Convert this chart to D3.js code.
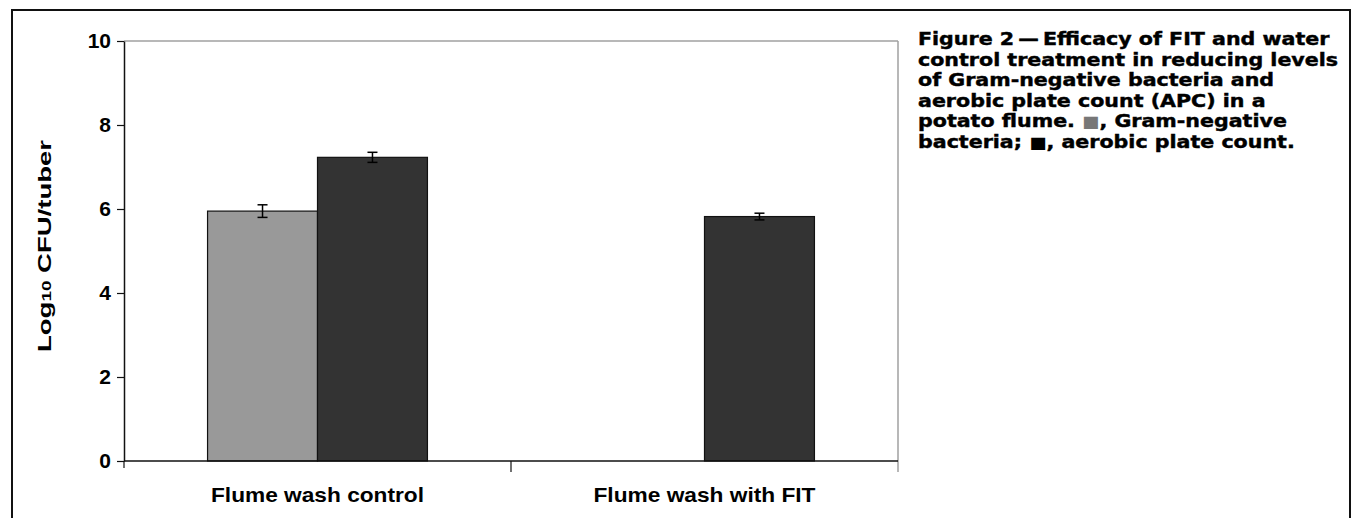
<!DOCTYPE html>
<html>
<head>
<meta charset="utf-8">
<script src="https://cdn.jsdelivr.net/npm/d3@7"></script>
<style>
  body { margin: 0; background: #fff; }
  svg { display: block; }
</style>
</head>
<body>
<div id="chart-area"></div>
<script>
// chart data
const categories = ["Flume wash control", "Flume wash with FIT"];
const seriesNames = ["Gram-negative bacteria", "Aerobic plate count"];
const gramNegative = [5.95, 0];
const gramNegativeErr = [0.15, 0];
const aerobicCount = [7.23, 5.82];
const aerobicErr = [0.12, 0.08];
const yTicks = [0, 2, 4, 6, 8, 10];
const seriesColors = ["#999999", "#333333"];
const captionLines = [
  "Figure 2\u2009\u2014\u2009Efficacy of FIT and water",
  "control treatment in reducing levels",
  "of Gram-negative bacteria and",
  "aerobic plate count (APC) in a",
  "potato flume. [0], Gram-negative",
  "bacteria; [1], aerobic plate count."
];

const W = 1354, H = 518;
let margin = {left: 124, top: 41, right: 456, bottom: 57};
let width = W - margin.left - margin.right,
    height = H - margin.top - margin.bottom;

let svg = d3.select("#chart-area")
  .append("svg")
  .attr("width", W)
  .attr("height", H);

// outer frame (no bottom edge, it runs off the page)
svg.append("path")
  .attr("d", "M12," + (H + 5) + "V10H1350V" + (H + 5))
  .attr("fill", "none")
  .attr("stroke", "#111")
  .attr("stroke-width", 2);

let g = svg.append("g")
  .attr("transform", "translate(" + margin.left + "," + margin.top + ")");

// scales
let x = d3.scaleBand()
  .domain(categories)
  .range([0, width])
  .padding(0);

let xSub = d3.scaleBand()
  .domain(seriesNames)
  .range([0, x.bandwidth()])
  .paddingInner(0)
  .paddingOuter(0.76);

let y = d3.scaleLinear()
  .domain([0, 10])
  .range([height, 0]);

// plot frame (top and right, grey)
g.append("line")
  .attr("x1", 0).attr("x2", width)
  .attr("y1", y(10)).attr("y2", y(10))
  .attr("stroke", "#a0a0a0").attr("stroke-width", 1.5);
g.append("line")
  .attr("x1", width).attr("x2", width)
  .attr("y1", y(10)).attr("y2", height + 11)
  .attr("stroke", "#a0a0a0").attr("stroke-width", 1.5);

// bars
let rows = categories.map(function(c, i) {
  return [
    {cat: c, s: seriesNames[0], v: gramNegative[i], e: gramNegativeErr[i], col: seriesColors[0]},
    {cat: c, s: seriesNames[1], v: aerobicCount[i], e: aerobicErr[i], col: seriesColors[1]}
  ];
}).flat();

g.selectAll("rect.bar")
  .data(rows.filter(function(d) { return d.v > 0; }))
  .enter()
  .append("rect")
  .attr("class", "bar")
  .attr("x", function(d) { return x(d.cat) + xSub(d.s); })
  .attr("y", function(d) { return y(d.v); })
  .attr("width", xSub.bandwidth())
  .attr("height", function(d) { return height - y(d.v); })
  .attr("fill", function(d) { return d.col; })
  .attr("stroke", "#111")
  .attr("stroke-width", 1.2);

// error bars
let eb = g.selectAll("g.err")
  .data(rows.filter(function(d) { return d.v > 0; }))
  .enter()
  .append("g")
  .attr("class", "err")
  .attr("stroke", "#000")
  .attr("stroke-width", 1.5);
let cx = function(d) { return x(d.cat) + xSub(d.s) + xSub.bandwidth() / 2; };
eb.append("line")
  .attr("x1", cx).attr("x2", cx)
  .attr("y1", function(d) { return y(d.v + d.e); })
  .attr("y2", function(d) { return y(d.v - d.e); });
eb.append("line")
  .attr("x1", function(d) { return cx(d) - 5; }).attr("x2", function(d) { return cx(d) + 5; })
  .attr("y1", function(d) { return y(d.v + d.e); })
  .attr("y2", function(d) { return y(d.v + d.e); });
eb.append("line")
  .attr("x1", function(d) { return cx(d) - 5; }).attr("x2", function(d) { return cx(d) + 5; })
  .attr("y1", function(d) { return y(d.v - d.e); })
  .attr("y2", function(d) { return y(d.v - d.e); });

// y axis
let yAxis = g.append("g")
  .call(d3.axisLeft(y).tickValues(yTicks).tickSize(7).tickSizeOuter(0).tickPadding(6));
yAxis.select(".domain").attr("stroke", "#111").attr("stroke-width", 1.5);
yAxis.selectAll(".tick line").attr("stroke", "#111").attr("stroke-width", 1.2);
yAxis.selectAll("text")
  .attr("fill", "#000")
  .style("font-family", "'Liberation Sans', Arial, sans-serif")
  .style("font-weight", "bold")
  .style("font-size", "21px");

// x axis baseline and category separators
g.append("line")
  .attr("x1", 0).attr("x2", width)
  .attr("y1", height).attr("y2", height)
  .attr("stroke", "#111").attr("stroke-width", 1.5);
let seps = categories.map(function(c) { return x(c); }).slice(1);
g.selectAll("line.sep")
  .data(seps)
  .enter()
  .append("line")
  .attr("class", "sep")
  .attr("x1", function(d) { return d; }).attr("x2", function(d) { return d; })
  .attr("y1", height).attr("y2", height + 11)
  .attr("stroke", "#111").attr("stroke-width", 1.2);
g.append("line")
  .attr("x1", 0).attr("x2", 0)
  .attr("y1", height).attr("y2", height + 7)
  .attr("stroke", "#111").attr("stroke-width", 1.2);

// category labels
let catWidths = [213, 222];
g.selectAll("text.cat")
  .data(categories)
  .enter()
  .append("text")
  .attr("class", "cat")
  .attr("x", function(d) { return x(d) + x.bandwidth() / 2; })
  .attr("y", height + 41)
  .attr("text-anchor", "middle")
  .attr("textLength", function(d, i) { return catWidths[i]; })
  .attr("lengthAdjust", "spacingAndGlyphs")
  .style("font-family", "'Liberation Sans', Arial, sans-serif")
  .style("font-weight", "bold")
  .style("font-size", "21px")
  .text(function(d) { return d; });

// y label
let yl = svg.append("text")
  .attr("transform", "translate(51,246) rotate(-90)")
  .attr("text-anchor", "middle")
  .style("font-family", "'Liberation Sans', Arial, sans-serif")
  .style("font-weight", "bold")
  .style("font-size", "19px");
yl.append("tspan").text("Log");
yl.append("tspan").attr("font-size", "13px").text("10");
yl.append("tspan").text(" CFU/tuber");
yl.attr("textLength", 212).attr("lengthAdjust", "spacingAndGlyphs");

// caption with inline legend squares (heavy, wide face -> scaled horizontally)
let cap = svg.append("text")
  .attr("transform", "translate(918,0) scale(1.145,1)")
  .attr("x", 0)
  .attr("y", 45)
  .style("font-family", "'DejaVu Sans', sans-serif")
  .style("font-weight", "bold")
  .style("font-size", "18px")
  .attr("stroke", "#000")
  .attr("stroke-width", 0.45)
  .attr("fill", "#000");
captionLines.forEach(function(line, i) {
  let parts = line.split(/(\[\d\])/);
  parts.forEach(function(p, j) {
    let t = cap.append("tspan");
    if (j === 0) t.attr("x", 0).attr("y", 45 + i * 20.6);
    let m = p.match(/\[(\d)\]/);
    if (m) {
      t.attr("fill", m[1] === "0" ? "#777" : "#000")
        .attr("stroke", "none")
        .style("font-size", "16px").text("\u25A0");
    } else {
      t.text(p);
    }
  });
});
</script>
</body>
</html>
